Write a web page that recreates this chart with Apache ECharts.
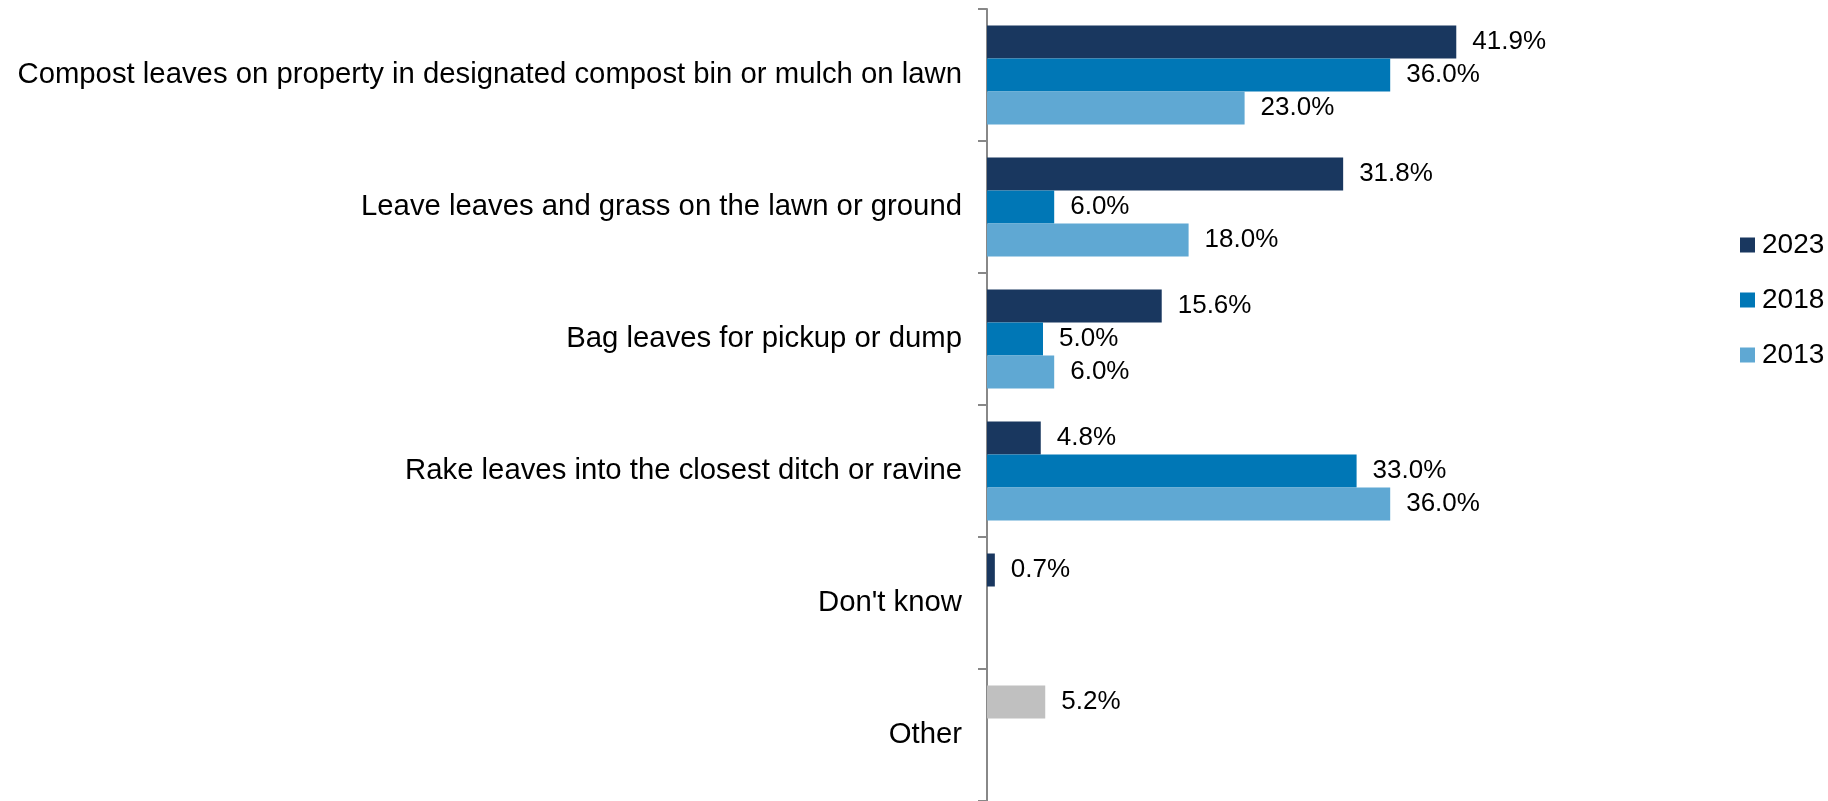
<!DOCTYPE html>
<html>
<head>
<meta charset="utf-8">
<script src="https://cdn.jsdelivr.net/npm/echarts@6/dist/echarts.min.js"></script>
<style>
html,body{margin:0;padding:0;background:#fff;}
#chart{width:1828px;height:801px;}
</style>
</head>
<body>
<div id="chart"></div>
<script>
const categories = [
  "Compost leaves on property in designated compost bin or mulch on lawn",
  "Leave leaves and grass on the lawn or ground",
  "Bag leaves for pickup or dump",
  "Rake leaves into the closest ditch or ravine",
  "Don't know",
  "Other"
];
const seriesNames = ["2023", "2018", "2013"];
const v2023 = [41.9, 31.8, 15.6, 4.8, 0.7, 5.2];
const v2018 = [36.0, 6.0, 5.0, 33.0, null, null];
const v2013 = [23.0, 18.0, 6.0, 36.0, null, null];
const colors = ["#19375F", "#0077B6", "#5FA8D3"];
const otherColor = "#C0C0C0";

const FONT = "'Liberation Sans', Arial, sans-serif";

function mkData(arr, idx) {
  return arr.map((v, i) => {
    if (idx === 0 && categories[i] === "Other") {
      return { value: v, itemStyle: { color: otherColor } };
    }
    return v;
  });
}

const labelCfg = {
  show: true,
  position: 'right',
  distance: 16,
  color: '#000',
  fontSize: 26,
  fontFamily: FONT,
  formatter: p => (p.value == null ? '' : Number(p.value).toFixed(1) + '%')
};

const allVals = [v2023, v2018, v2013];
const chart = echarts.init(document.getElementById('chart'));
chart.setOption({
  animation: false,
  backgroundColor: '#fff',
  grid: { left: 987, right: 281, top: 9, bottom: 0, containLabel: false },
  legend: {
    orient: 'vertical',
    left: 1735,
    top: 226,
    itemWidth: 15,
    itemHeight: 15,
    itemGap: 27,
    icon: 'rect',
    textStyle: { fontSize: 28, fontFamily: FONT, color: '#000', padding: [0, 0, 0, 2] },
    data: seriesNames
  },
  xAxis: {
    type: 'value',
    min: 0,
    max: 50,
    show: false
  },
  yAxis: {
    type: 'category',
    inverse: true,
    data: categories,
    axisLine: { show: true, lineStyle: { color: '#888888', width: 2 } },
    axisTick: { show: true, length: 9, lineStyle: { color: '#888888', width: 2 } },
    axisLabel: { margin: 25, color: '#000', fontSize: 29.3, fontFamily: FONT }
  },
  series: seriesNames.map((n, i) => ({
    name: n,
    type: 'bar',
    barWidth: 33,
    barGap: '0%',
    itemStyle: { color: colors[i] },
    label: labelCfg,
    data: mkData(allVals[i], i)
  }))
});
</script>
</body>
</html>
